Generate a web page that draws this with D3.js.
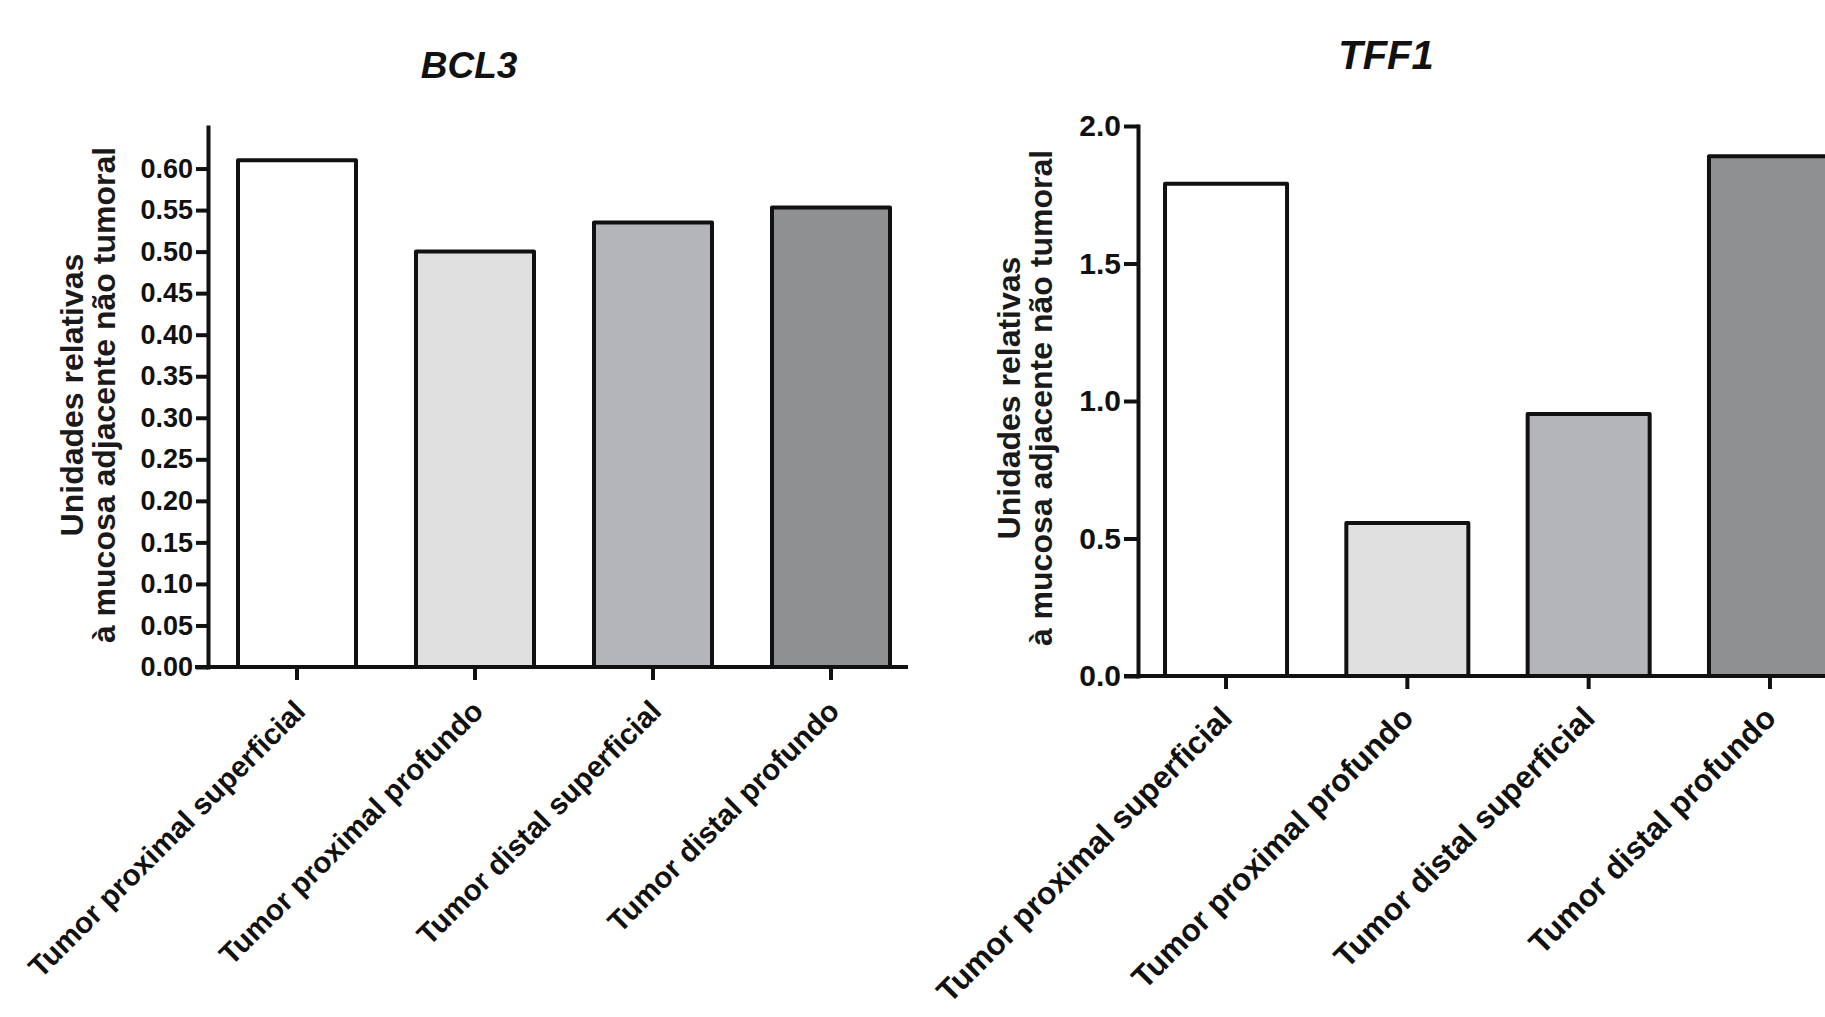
<!DOCTYPE html>
<html><head><meta charset="utf-8">
<script src="https://cdn.jsdelivr.net/npm/d3@7"></script>
<style>html,body{margin:0;padding:0;background:#fff;overflow:hidden}</style>
</head><body><svg id="chart" width="1825" height="1017"></svg>
<script>
// ---- data ----
const categories = ["Tumor proximal superficial", "Tumor proximal profundo", "Tumor distal superficial", "Tumor distal profundo"];
const bcl3Values = [0.61, 0.50, 0.535, 0.553];
const tff1Values = [1.79, 0.556, 0.953, 1.89];
const bcl3Ticks = [0, 0.05, 0.10, 0.15, 0.20, 0.25, 0.30, 0.35, 0.40, 0.45, 0.50, 0.55, 0.60];
const tff1Ticks = [0, 0.5, 1.0, 1.5, 2.0];
const titles = ["BCL3", "TFF1"];
const yLabelLines = ["Unidades relativas", "à mucosa adjacente não tumoral"];

// ---- style ----
const fills = ["#ffffff", "#e0e0e0", "#b4b5b8", "#8f9092"];
const FONT = "'Liberation Sans', Arial, Helvetica, sans-serif";
const INK = "#111";

const svg = d3.select("#chart");

function panel(o) {
  const g = svg.append("g");
  const x = d3.scaleBand().domain(categories).range(o.xRange).paddingInner(o.pi).paddingOuter(o.po);
  const y = d3.scaleLinear().domain(o.yDomain).range(o.yRange);

  // bars
  g.selectAll("rect.bar").data(o.values).join("rect")
    .attr("class", "bar")
    .attr("x", (d, i) => x(categories[i]))
    .attr("width", x.bandwidth())
    .attr("y", d => y(d))
    .attr("height", d => y(0) - y(d))
    .attr("fill", (d, i) => fills[i])
    .attr("stroke", INK).attr("stroke-width", 4).attr("stroke-linejoin", "round");

  // y axis
  const ya = d3.axisLeft(y).tickValues(o.ticks).tickFormat(d3.format(o.fmt))
    .tickSize(o.tickLen).tickPadding(o.tickPad).tickSizeOuter(0);
  const yg = g.append("g").attr("transform", `translate(${o.xRange[0]},0)`).call(ya);
  yg.select(".domain").attr("stroke", INK).attr("stroke-width", 4).attr("stroke-linecap", "square");
  yg.selectAll(".tick line").attr("stroke", INK).attr("stroke-width", 4);
  yg.selectAll(".tick text").attr("fill", INK).style("font-family", FONT)
    .style("font-weight", "bold").style("font-size", o.tickFont + "px");

  // x axis
  const xa = d3.axisBottom(x).tickSize(13).tickFormat("").tickSizeOuter(0);
  const xg = g.append("g").attr("transform", `translate(0,${y(0)})`).call(xa);
  xg.select(".domain").remove();
  xg.selectAll(".tick line").attr("stroke", INK).attr("stroke-width", 4);
  g.append("line")
    .attr("x1", o.xLine[0]).attr("x2", o.xLine[1])
    .attr("y1", y(0)).attr("y2", y(0))
    .attr("stroke", INK).attr("stroke-width", 4);

  // rotated category labels
  g.selectAll("text.cat").data(categories).join("text")
    .attr("class", "cat")
    .attr("transform", d => `translate(${x(d) + x.bandwidth() / 2 + o.labDx},${y(0) + o.labDy}) rotate(-45)`)
    .attr("text-anchor", "end")
    .style("font-family", FONT).style("font-weight", "bold").style("font-size", o.labFont + "px")
    .attr("fill", INK)
    .text(d => d);

  // y label (two lines)
  yLabelLines.forEach((t, i) => {
    g.append("text")
      .attr("transform", `translate(${o.yLabX[i]},${o.yLabCy}) rotate(-90)`)
      .attr("text-anchor", "middle")
      .style("font-family", FONT).style("font-weight", "bold").style("font-size", "32px")
      .attr("fill", "#1a1a1a")
      .text(t);
  });

  // title
  g.append("text")
    .attr("x", o.titleX).attr("y", o.titleY)
    .attr("text-anchor", "middle")
    .style("font-family", FONT).style("font-weight", "bold").style("font-style", "italic")
    .style("font-size", o.titleFont + "px")
    .attr("fill", INK)
    .text(o.title);
}

panel({
  title: titles[0], values: bcl3Values, ticks: bcl3Ticks, fmt: ".2f",
  xRange: [208, 920], pi: 0.337, po: 0.1685,
  yDomain: [0, 0.65], yRange: [667, 127],
  tickLen: 12, tickPad: 3, tickFont: 27,
  xLine: [195, 908],
  labDx: 10, labDy: 46, labFont: 29.5,
  yLabX: [83, 115], yLabCy: 395,
  titleX: 469, titleY: 78, titleFont: 37
});

panel({
  title: titles[1], values: tff1Values, ticks: tff1Ticks, fmt: ".1f",
  xRange: [1138, 1858], pi: 0.327, po: 0.149,
  yDomain: [0, 2], yRange: [676, 126],
  tickLen: 14, tickPad: 3, tickFont: 30,
  xLine: [1124, 1870],
  labDx: 8, labDy: 44, labFont: 31.5,
  yLabX: [1020, 1052], yLabCy: 398,
  titleX: 1386, titleY: 69, titleFont: 40
});
</script>
</body></html>
